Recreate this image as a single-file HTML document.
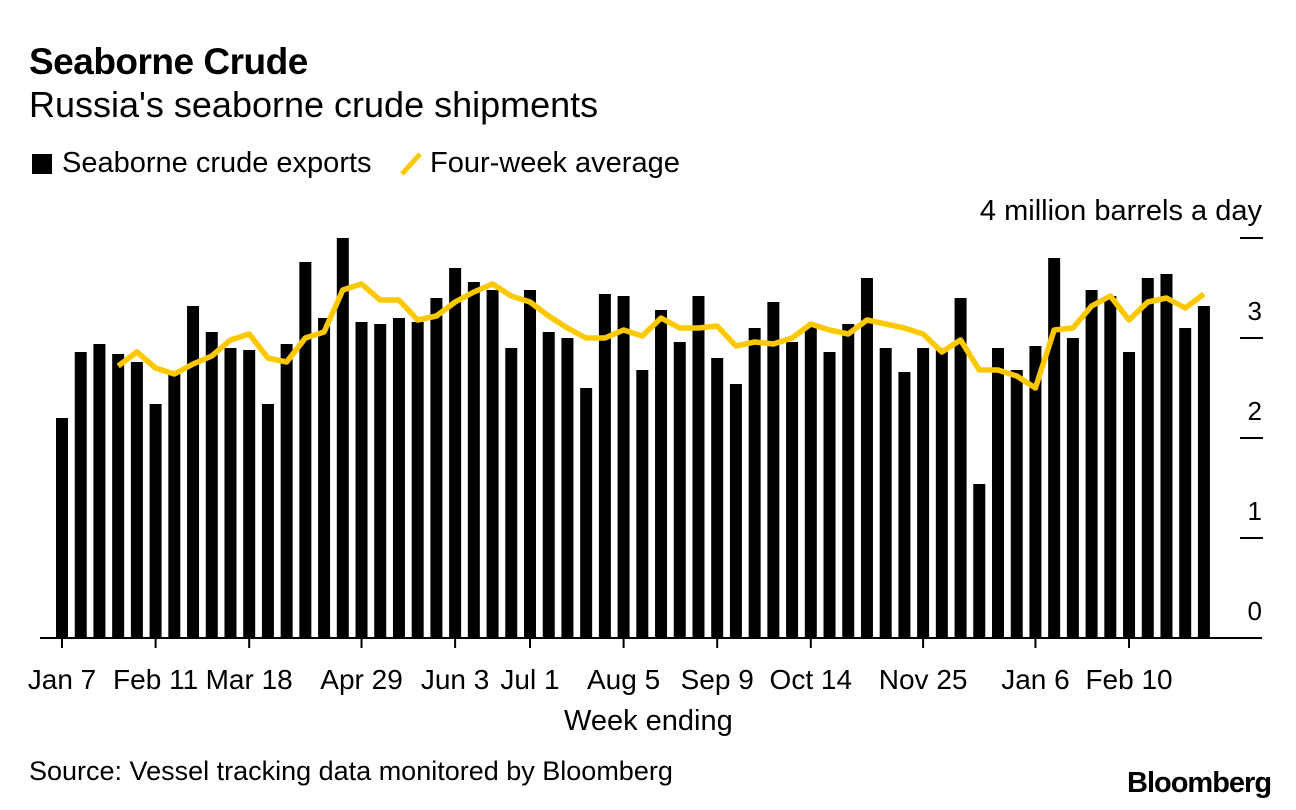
<!DOCTYPE html>
<html><head><meta charset="utf-8"><style>
body{margin:0;background:#fff;font-family:"Liberation Sans",sans-serif;}
#wrap{position:relative;width:1296px;height:810px;overflow:hidden;}
.t{position:absolute;white-space:nowrap;color:#000;}
</style></head><body>
<div id="wrap">
<div class="t" style="left:29px;top:41px;font-size:37px;font-weight:bold;letter-spacing:-0.5px">Seaborne Crude</div>
<div class="t" style="left:29px;top:84px;font-size:36px">Russia's seaborne crude shipments</div>
<div class="t" style="left:32px;top:147px;font-size:29px"><span style="display:inline-block;width:20px;height:20px;background:#000;vertical-align:-2px;margin-right:10px"></span>Seaborne crude exports</div>
<div class="t" style="left:398px;top:147px;font-size:29px"><svg width="26" height="26" style="vertical-align:-4px;margin-right:6px"><line x1="4" y1="24" x2="22" y2="4" stroke="#fcc800" stroke-width="5"/></svg>Four-week average</div>
<svg id="chart" width="1296" height="810" style="position:absolute;left:0;top:0"></svg>
<div class="t" style="left:564px;top:705px;font-size:29px">Week ending</div>
<div class="t" style="left:29px;top:756px;font-size:27px">Source: Vessel tracking data monitored by Bloomberg</div>
<div class="t" style="left:1127px;top:767px;font-size:29px;font-weight:bold;letter-spacing:-1px">Bloomberg</div>
</div>
<script>
const exportsVals=[2.2,2.86,2.94,2.84,2.76,2.34,2.66,3.32,3.06,2.9,2.88,2.34,2.94,3.76,3.2,4.0,3.16,3.14,3.2,3.16,3.4,3.7,3.56,3.48,2.9,3.48,3.06,3.0,2.5,3.44,3.42,2.68,3.28,2.96,3.42,2.8,2.54,3.1,3.36,2.96,3.12,2.86,3.14,3.6,2.9,2.66,2.9,2.9,3.4,1.54,2.9,2.68,2.92,3.8,3.0,3.48,3.42,2.86,3.6,3.64,3.1,3.32];
const avgVals=[null,null,null,2.72,2.86,2.7,2.64,2.74,2.82,2.98,3.04,2.8,2.76,3.0,3.06,3.48,3.54,3.38,3.38,3.18,3.22,3.36,3.46,3.54,3.42,3.36,3.22,3.1,3.0,3.0,3.08,3.02,3.2,3.1,3.1,3.12,2.92,2.96,2.94,3.0,3.14,3.08,3.04,3.18,3.14,3.1,3.04,2.86,2.98,2.68,2.68,2.62,2.5,3.08,3.1,3.32,3.42,3.18,3.36,3.4,3.3,3.44];
const xTickIdx=[0,5,10,16,21,25,30,35,40,46,52,57];
const xTickLabels=["Jan 7","Feb 11","Mar 18","Apr 29","Jun 3","Jul 1","Aug 5","Sep 9","Oct 14","Nov 25","Jan 6","Feb 10"];
const yTicks=[0,1,2,3,4];
const yTickLabels=["0","1","2","3","4 million barrels a day"];
const svg=document.getElementById('chart');const NS='http://www.w3.org/2000/svg';
const x=i=>62+i*18.72, y=v=>638-v*100;
function mk(t,a){const e=document.createElementNS(NS,t);for(const k in a)e.setAttribute(k,a[k]);svg.appendChild(e);return e;}
exportsVals.forEach((v,i)=>{const r=mk('rect',{x:x(i)-6,y:y(v),width:12,height:638-y(v),fill:'#000'});

});
let d='';avgVals.forEach((v,i)=>{if(v==null)return;d+=(d?'L':'M')+x(i)+','+y(v);});
const p=mk('path',{d:d,fill:'none',stroke:'#fcc800','stroke-width':5.5,'stroke-linejoin':'round'});


const base=mk('line',{x1:40,x2:1262,y1:638,y2:638,stroke:'#000','stroke-width':2});


yTicks.forEach((v,i)=>{
 if(v>0){const l=mk('line',{x1:1240,x2:1263,y1:y(v),y2:y(v),stroke:'#000','stroke-width':2});
 
 }
 const t=mk('text',{x:1262,y:y(v)-18,'text-anchor':'end','font-size':v===4?29:26,'font-family':'Liberation Sans, sans-serif'});t.textContent=yTickLabels[i];
 
 });
xTickIdx.forEach((k,i)=>{
 const l=mk('line',{x1:x(k),x2:x(k),y1:638,y2:648,stroke:'#000','stroke-width':2});
 
 
 const t=mk('text',{x:x(k),y:689,'text-anchor':'middle','font-size':28,'font-family':'Liberation Sans, sans-serif'});t.textContent=xTickLabels[i];
 
 });
</script>
</body></html>
